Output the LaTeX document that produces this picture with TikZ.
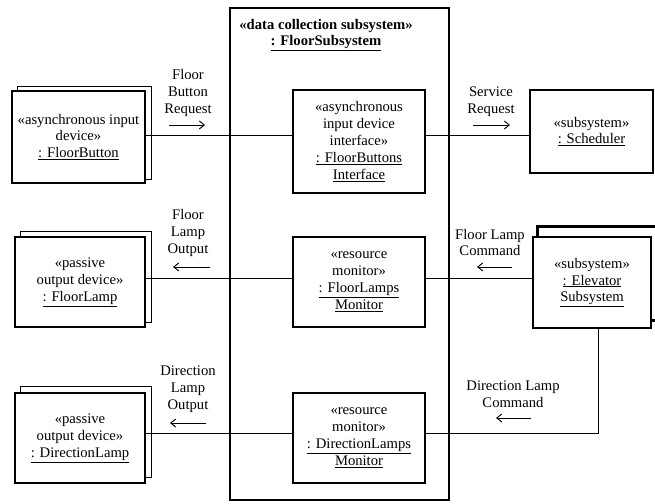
\documentclass[tikz,border=0pt]{standalone}
\usepackage{fontspec}
\setmainfont{Liberation Serif}
\usetikzlibrary{arrows.meta,calc,backgrounds}
\begin{document}
\begin{tikzpicture}[x=1bp,y=-1bp,
  txt/.style={font=\fontsize{14.7}{17}\selectfont, align=center, inner sep=0pt},
  heavybox/.style={txt, draw, line width=2.6bp, fill=white},
  lightbox/.style={txt, draw, line width=1.3bp, fill=white},
  backbox/.style={draw, line width=1.3bp, fill=white},
  heavyback/.style={draw, line width=2.6bp, fill=white},
  outerbox/.style={draw, line width=2.8bp},
  conn/.style={line width=0.9bp},
  dirarrow/.style={line width=0.9bp, -{Straight Barb[length=5bp,width=8bp]}}
]
\clip (0,0) rectangle (655,504);

% outer subsystem
\draw[outerbox] (230,8) rectangle (449,500);
\node[txt, font=\fontsize{14.7}{17}\selectfont\bfseries] (title) at (326,35)
  {«data collection subsystem»\\\underline{: FloorSubsystem}};

% left external devices
\node[lightbox, minimum width=133bp, minimum height=92bp] (fb) at (78.5,137)
  {«asynchronous input\\device»\\\underline{: FloorButton}};
\node[lightbox, minimum width=130bp, minimum height=90bp] (fl) at (80,282)
  {«passive\\output device»\\\underline{: FloorLamp}};
\node[lightbox, minimum width=130bp, minimum height=90bp] (dl) at (80,438)
  {«passive\\output device»\\\underline{: DirectionLamp}};

% inner objects
\node[heavybox, minimum width=132bp, minimum height=103bp] (fbi) at (359,141.5)
  {«asynchronous\\input device\\interface»\\\underline{: FloorButtons}\\\underline{Interface}};
\node[heavybox, minimum width=132bp, minimum height=90bp] (flm) at (359,282)
  {«resource\\monitor»\\\underline{: FloorLamps}\\\underline{Monitor}};
\node[heavybox, minimum width=132bp, minimum height=90bp] (dlm) at (359,438)
  {«resource\\monitor»\\\underline{: DirectionLamps}\\\underline{Monitor}};

% right subsystems
\node[heavybox, minimum width=123bp, minimum height=83bp] (sched) at (591.5,131.5)
  {«subsystem»\\\underline{: Scheduler}};
\node[heavybox, minimum width=118bp, minimum height=91bp] (elev) at (592,282.5)
  {«subsystem»\\\underline{: Elevator}\\\underline{Subsystem}};

% stacked (multiple object) backs
\begin{scope}[on background layer]
  \draw[backbox] ($(fb.south west)+(6,-4)$) rectangle ($(fb.north east)+(6,-4)$);
  \draw[backbox] ($(fl.south west)+(6,-5)$) rectangle ($(fl.north east)+(6,-5)$);
  \draw[backbox] ($(dl.south west)+(6,-6)$) rectangle ($(dl.north east)+(6,-6)$);
  \draw[heavyback] ($(elev.south west)+(6,-9)$) rectangle ($(elev.north east)+(6,-9)$);
\end{scope}

% connector rows
\coordinate (r1) at (0,135);
\coordinate (r2) at (0,278);
\coordinate (r3) at (0,433);
\coordinate (ev) at (598,0);

\draw[conn] (fb.east |- r1) -- (fbi.west |- r1);
\draw[conn] (fbi.east |- r1) -- (sched.west |- r1);
\draw[conn] (fl.east |- r2) -- (flm.west |- r2);
\draw[conn] (flm.east |- r2) -- (elev.west |- r2);
\draw[conn] (dl.east |- r3) -- (dlm.west |- r3);
\draw[conn] (dlm.east |- r3) -| (elev.south -| ev);

% message labels
\node[txt] (m1) at (188,93) {Floor\\Button\\Request};
\node[txt] (m2) at (491,102) {Service\\Request};
\node[txt] (m3) at (188,233) {Floor\\Lamp\\Output};
\node[txt] (m4) at (490,242.5) {Floor Lamp\\Command};
\node[txt] (m5) at (188,389) {Direction\\Lamp\\Output};
\node[txt] (m6) at (513,394.5) {Direction Lamp\\Command};

% direction arrows
\coordinate (a1s) at (169,125); \coordinate (a1e) at (205,125);
\coordinate (a2s) at (473,125); \coordinate (a2e) at (510,125);
\coordinate (a3s) at (210,267); \coordinate (a3e) at (173,267);
\coordinate (a4s) at (512,267); \coordinate (a4e) at (477,267);
\coordinate (a5s) at (206,423); \coordinate (a5e) at (170,423);
\coordinate (a6s) at (531,418); \coordinate (a6e) at (496,418);
\draw[dirarrow] (a1s) -- (a1e);
\draw[dirarrow] (a2s) -- (a2e);
\draw[dirarrow] (a3s) -- (a3e);
\draw[dirarrow] (a4s) -- (a4e);
\draw[dirarrow] (a5s) -- (a5e);
\draw[dirarrow] (a6s) -- (a6e);
\end{tikzpicture}
\end{document}
